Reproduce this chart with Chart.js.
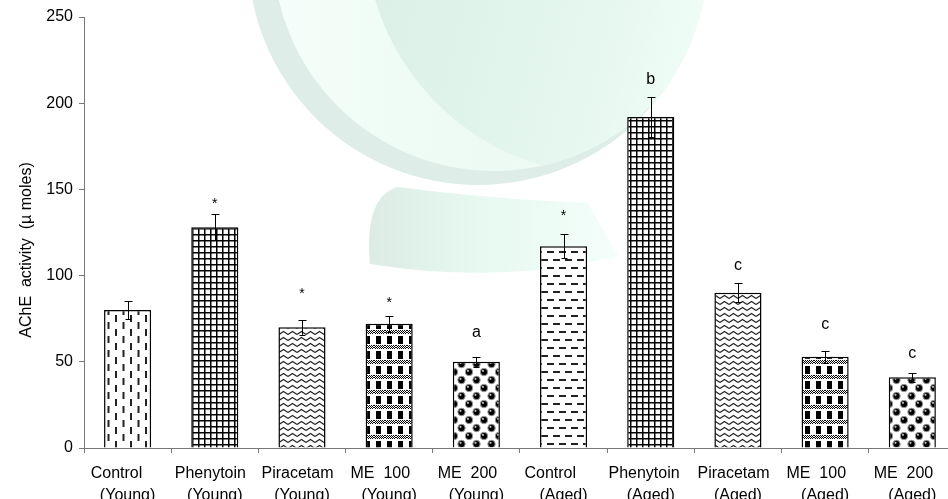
<!DOCTYPE html>
<html>
<head>
<meta charset="utf-8">
<script src="https://cdn.jsdelivr.net/npm/chart.js@4"></script>
<style>
  html, body { margin: 0; padding: 0; background: #fff; overflow: hidden; }
  #wrap { position: relative; width: 960px; height: 499px; }
</style>
</head>
<body>
<div id="wrap"><canvas id="c"></canvas></div>
<script>
// ---- data ----
const labelLine1 = ['Control     ', 'Phenytoin  ', 'Piracetam  ', 'ME  100    ', 'ME  200    ',
                    'Control      ', 'Phenytoin   ', 'Piracetam  ', 'ME  100    ', 'ME  200    '];
const labelLine2 = ['(Young)', '(Young)', '(Young)', '(Young)', '(Young)',
                    '(Aged)', '(Aged)', '(Aged)', '(Aged)', '(Aged)'];
const acheValues = [80, 128, 70, 72, 50, 117, 192, 90, 53, 41];
const errValues  = [5, 7.5, 4.5, 4.5, 3, 7, 11.5, 5.5, 3.5, 2.5];
const sigMarks   = ['', '*', '*', '*', 'a', '*', 'b', 'c', 'c', 'c'];
const sigLevels  = [null, 139, 87, 81.5, 64.5, 132, 211, 103, 69, 52];
const yTicks     = [0, 50, 100, 150, 200, 250];
const yTitle     = 'AChE  activity  (µ moles)';

// ---- fill patterns ----
function makePattern(w, h, draw) {
  const c = document.createElement('canvas');
  c.width = w; c.height = h;
  const x = c.getContext('2d');
  x.fillStyle = '#fff'; x.fillRect(0, 0, w, h);
  draw(x);
  return x.createPattern(c, 'repeat');
}
const patterns = {
  vdash: makePattern(15, 14, x => { x.fillStyle = '#222'; x.fillRect(2.5, 0, 2, 7); x.fillRect(10, 7, 2, 7); }),
  grid: makePattern(6, 6, x => { x.fillStyle = '#000'; x.fillRect(0, 0, 6, 1.5); x.fillRect(0, 0, 1.5, 6); }),
  zigzag: makePattern(9, 6, x => {
    x.strokeStyle = '#222'; x.lineWidth = 1.1;
    x.beginPath(); x.moveTo(0, 4.5); x.lineTo(4.5, 1.5); x.lineTo(9, 4.5); x.stroke();
  }),
  check: makePattern(11, 15, x => {
    x.fillStyle = '#000';
    for (let px = 0; px < 11; px++) for (let py = 0; py < 4; py++) if ((px + py) % 2 === 0) x.fillRect(px, py, 1, 1);
    x.fillRect(2, 6, 5, 8);
  }),
  balls: makePattern(15, 16, x => {
    const pts = [[4, 4], [11.5, 12], [-3.5, 12], [4, 20], [4, -12], [11.5, -4]];
    pts.forEach(([cx, cy]) => {
      x.beginPath(); x.arc(cx, cy, 3.7, 0, Math.PI * 2);
      x.fillStyle = '#000'; x.fill();
      x.strokeStyle = '#999'; x.lineWidth = 1; x.stroke();
      x.beginPath(); x.arc(cx - 1, cy - 1.2, 1.1, 0, Math.PI * 2);
      x.fillStyle = '#bbb'; x.fill();
    });
  }),
  hdash: makePattern(12, 16, x => {
    x.fillStyle = '#222';
    x.fillRect(1, 3, 7, 2); x.fillRect(7, 11, 5, 2); x.fillRect(0, 11, 2, 2);
  })
};
const barFills = ['vdash', 'grid', 'zigzag', 'check', 'balls', 'hdash', 'grid', 'zigzag', 'check', 'balls']
  .map(k => patterns[k]);

// ---- watermark (background logo) ----
function drawWatermark(ctx) {
  ctx.save();
  ctx.fillStyle = '#fff';
  ctx.fillRect(0, 0, ctx.canvas.width, ctx.canvas.height);
  // outer disc (band)
  ctx.beginPath(); ctx.arc(478, -45, 230, 0, Math.PI * 2); ctx.closePath();
  ctx.fillStyle = 'rgb(222,237,231)'; ctx.fill();
  ctx.save(); ctx.clip();
  ctx.beginPath(); ctx.arc(494, -50, 221, 0, Math.PI * 2);
  let g = ctx.createLinearGradient(270, 0, 700, 0);
  g.addColorStop(0, 'rgb(244,254,250)'); g.addColorStop(0.5, 'rgb(236,250,243)'); g.addColorStop(1, 'rgb(242,253,248)');
  ctx.fillStyle = g; ctx.fill();
  ctx.save(); ctx.clip();
  ctx.beginPath(); ctx.arc(610, -70, 245, 0, Math.PI * 2);
  g = ctx.createLinearGradient(380, 0, 700, 80);
  g.addColorStop(0, 'rgb(220,240,232)'); g.addColorStop(0.6, 'rgb(228,246,238)'); g.addColorStop(1, 'rgb(240,253,247)');
  ctx.fillStyle = g; ctx.fill();
  ctx.restore();
  ctx.restore();
  // lower bowl
  ctx.beginPath();
  ctx.moveTo(370, 264);
  ctx.quadraticCurveTo(364, 196, 398, 187);
  ctx.quadraticCurveTo(480, 198, 588, 203);
  ctx.lineTo(618, 256);
  ctx.quadraticCurveTo(500, 285, 370, 264);
  ctx.closePath();
  g = ctx.createLinearGradient(370, 0, 620, 0);
  g.addColorStop(0, 'rgb(220,236,229)'); g.addColorStop(0.45, 'rgb(231,249,241)'); g.addColorStop(1, 'rgb(244,254,250)');
  ctx.fillStyle = g; ctx.fill();
  ctx.restore();
}

const FONT = '"Liberation Sans", Arial, sans-serif';

const decorPlugin = {
  id: 'decor',
  beforeDraw(chart) { drawWatermark(chart.ctx); },
  afterDatasetsDraw(chart) {
    const ctx = chart.ctx, ys = chart.scales.y;
    const meta = chart.getDatasetMeta(0);
    ctx.save();
    ctx.strokeStyle = '#000'; ctx.lineWidth = 1;
    meta.data.forEach((bar, i) => {
      const x = Math.round(bar.x) + 0.5;
      const t = Math.round(ys.getPixelForValue(acheValues[i] + errValues[i])) + 0.5;
      const b = Math.round(ys.getPixelForValue(acheValues[i] - errValues[i])) + 0.5;
      ctx.beginPath();
      ctx.moveTo(x, t); ctx.lineTo(x, b);
      ctx.moveTo(x - 4, t); ctx.lineTo(x + 4, t);
      ctx.moveTo(x - 3, b); ctx.lineTo(x + 3, b);
      ctx.stroke();
    });
    ctx.fillStyle = '#000'; ctx.textAlign = 'center'; ctx.textBaseline = 'alphabetic';
    meta.data.forEach((bar, i) => {
      if (!sigMarks[i]) return;
      ctx.font = (sigMarks[i] === '*' ? '14px ' : '16px ') + FONT;
      ctx.fillText(sigMarks[i], bar.x, ys.getPixelForValue(sigLevels[i]));
    });
    ctx.restore();
  },
  afterDraw(chart) {
    const ctx = chart.ctx;
    ctx.save();
    ctx.translate(27, 250);
    ctx.rotate(-Math.PI / 2);
    ctx.font = '16px ' + FONT;
    ctx.fillStyle = '#000'; ctx.textAlign = 'center'; ctx.textBaseline = 'middle';
    ctx.fillText(yTitle, 0, 0);
    ctx.restore();
  }
};

new Chart(document.getElementById('c'), {
  type: 'bar',
  data: {
    labels: labelLine1.map((l, i) => [l, labelLine2[i]]),
    datasets: [{
      data: acheValues,
      backgroundColor: barFills,
      borderColor: '#000',
      borderWidth: 1.5,
      categoryPercentage: 1,
      barPercentage: 0.54
    }]
  },
  options: {
    responsive: true,
    maintainAspectRatio: false,
    animation: false,
    devicePixelRatio: 1,
    layout: { padding: { top: 17, right: 0, left: 0, bottom: 0 } },
    plugins: { legend: { display: false }, tooltip: { enabled: false } },
    scales: {
      x: {
        grid: { display: true, drawOnChartArea: false, drawTicks: true, tickLength: 5, color: '#777', offset: true },
        border: { display: true, color: '#777', width: 1 },
        ticks: { color: '#000', font: { size: 16, family: FONT, lineHeight: 1.4 }, padding: 9, maxRotation: 0, autoSkip: false },
        afterFit(s) { s.height = 51; }
      },
      y: {
        min: 0, max: 250,
        afterBuildTicks(s) { s.ticks = yTicks.map(v => ({ value: v })); },
        grid: { display: true, drawOnChartArea: false, drawTicks: true, tickLength: 5, color: '#777' },
        border: { display: true, color: '#777', width: 1 },
        ticks: { color: '#000', font: { size: 16, family: FONT }, padding: 6 },
        afterFit(s) { s.width = 84; }
      }
    }
  },
  plugins: [decorPlugin]
});
</script>
</body>
</html>
